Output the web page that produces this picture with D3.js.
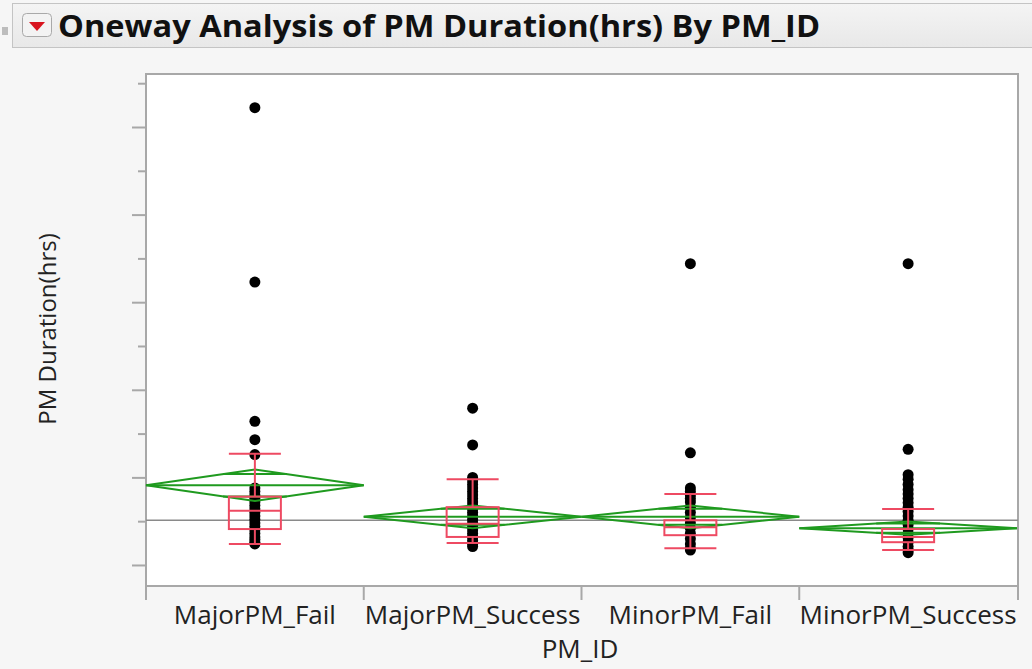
<!DOCTYPE html>
<html>
<head>
<meta charset="utf-8">
<script src="https://cdn.jsdelivr.net/npm/d3@7"></script>
<style>
  body { margin: 0; background: #f6f6f6; }
  svg { display: block; }
</style>
</head>
<body>
<div id="chart"></div>
<script>
var groups = ["MajorPM_Fail", "MajorPM_Success", "MinorPM_Fail", "MinorPM_Success"];

// raw duration points per group (hrs)
var ptsMajorFail = [52.2, 32.3, 16.4, 14.3, 12.6, 8.8, 8.4, 8.0, 7.6, 7.2, 6.8, 6.4, 6.0, 5.6, 5.2, 4.8, 4.4, 4.0, 3.6, 3.2, 2.9, 2.6, 2.4];
var ptsMajorSuccess = [17.9, 13.7, 10.0, 9.6, 9.2, 8.8, 8.4, 8.0, 7.6, 7.2, 6.8, 6.4, 6.0, 5.6, 5.2, 4.8, 4.4, 4.0, 3.6, 3.2, 2.8, 2.4, 2.1];
var ptsMinorFail = [34.4, 12.8, 8.8, 8.4, 8.0, 7.6, 7.2, 6.6, 6.0, 5.4, 4.8, 4.2, 3.6, 3.0, 2.4, 1.9, 1.7];
var ptsMinorSuccess = [34.4, 13.2, 10.3, 9.8, 9.2, 8.6, 8.1, 7.6, 7.1, 6.6, 6.1, 5.6, 5.1, 4.6, 4.1, 3.6, 3.1, 2.6, 2.1, 1.7, 1.4];

// mean diamonds
var means = [9.1, 5.5, 5.5, 4.2];
var ciHalf = [1.8, 1.3, 1.3, 0.75];
var grandMean = 5.1;

// box plots
var q1 = [4.1, 3.2, 3.4, 2.6];
var medians = [6.2, 4.7, 4.3, 3.2];
var q3 = [7.8, 6.6, 5.1, 4.1];
var whiskerLo = [2.4, 2.5, 1.9, 1.7];
var whiskerHi = [12.7, 9.8, 8.1, 6.4];

var majorTicks = [0, 10, 20, 30, 40, 50];
var minorTicks = [5, 15, 25, 35, 45, 55];

var allPts = [ptsMajorFail, ptsMajorSuccess, ptsMinorFail, ptsMinorSuccess];

var W = 1032, H = 669;
var plotL = 146, plotR = 1018, plotT = 74, plotB = 586;

var svg = d3.select("#chart").append("svg")
  .attr("width", W)
  .attr("height", H);

svg.append("rect").attr("width", W).attr("height", H).attr("fill", "#f6f6f6");

// header bar
var grad = svg.append("defs").append("linearGradient")
  .attr("id", "hdr").attr("x1", 0).attr("x2", 0).attr("y1", 0).attr("y2", 1);
grad.append("stop").attr("offset", "0%").attr("stop-color", "#f4f4f4");
grad.append("stop").attr("offset", "100%").attr("stop-color", "#e8e8e8");

svg.append("rect")
  .attr("x", 12.5).attr("y", 3.5).attr("width", 1030).attr("height", 44)
  .attr("fill", "url(#hdr)").attr("stroke", "#c4c4c4");
svg.append("rect")
  .attr("x", 2).attr("y", 27).attr("width", 6).attr("height", 8)
  .attr("fill", "#bdbdbd");
svg.append("rect")
  .attr("x", 22.5).attr("y", 13.5).attr("width", 29).attr("height", 23).attr("rx", 4)
  .attr("fill", "#f3f3f3").attr("stroke", "#a9a9a9");
svg.append("path")
  .attr("d", "M29,22 L45,22 L37,31 Z")
  .attr("fill", "#d8141f");
svg.append("text")
  .attr("x", 58).attr("y", 37)
  .attr("font-family", "'Open Sans', sans-serif")
  .attr("font-weight", "bold")
  .attr("font-size", 30)
  .attr("textLength", 762)
  .attr("lengthAdjust", "spacingAndGlyphs")
  .attr("fill", "#111")
  .text("Oneway Analysis of PM Duration(hrs) By PM_ID");

var x = d3.scaleBand().domain(groups).range([plotL, plotR - 1]).padding(0);
var y = d3.scaleLinear().domain([-2.4, 56.05]).range([plotB, plotT]);

// plot area
svg.append("rect")
  .attr("x", plotL).attr("y", plotT)
  .attr("width", plotR - plotL).attr("height", plotB - plotT)
  .attr("fill", "#fff")
  .attr("stroke", "#a8a8a8").attr("stroke-width", 2);

// y axis ticks, no labels
var yMajor = svg.append("g")
  .attr("transform", "translate(" + plotL + ",0)")
  .call(d3.axisLeft(y).tickValues(majorTicks).tickSize(14).tickSizeOuter(0).tickFormat(""));
var yMinor = svg.append("g")
  .attr("transform", "translate(" + plotL + ",0)")
  .call(d3.axisLeft(y).tickValues(minorTicks).tickSize(8).tickSizeOuter(0).tickFormat(""));
[yMajor, yMinor].forEach(function(g) {
  g.select(".domain").remove();
  g.selectAll("line").attr("stroke", "#a8a8a8").attr("stroke-width", 2);
});

// left axis line extends below the frame
svg.append("line")
  .attr("x1", plotL).attr("x2", plotL).attr("y1", plotT).attr("y2", plotB + 14)
  .attr("stroke", "#a8a8a8").attr("stroke-width", 2);

// x axis ticks at group boundaries
var bounds = groups.map(function(g) { return x(g); }).concat([plotR]);
svg.selectAll(".xtick")
  .data(bounds)
  .enter()
  .append("line")
    .attr("x1", function(d) { return d; })
    .attr("x2", function(d) { return d; })
    .attr("y1", plotB)
    .attr("y2", plotB + 14)
    .attr("stroke", "#a8a8a8")
    .attr("stroke-width", 2);

svg.selectAll(".xlab")
  .data(groups)
  .enter()
  .append("text")
    .attr("x", function(d) { return x(d) + x.bandwidth() / 2; })
    .attr("y", 624)
    .attr("text-anchor", "middle")
    .attr("font-family", "'Open Sans', sans-serif")
    .attr("font-size", 26)
    .attr("fill", "#222")
    .text(function(d) { return d; });

svg.append("text")
  .attr("x", 580).attr("y", 658)
  .attr("text-anchor", "middle")
  .attr("font-family", "'Open Sans', sans-serif")
  .attr("font-size", 26)
  .attr("fill", "#222")
  .text("PM_ID");

svg.append("text")
  .attr("transform", "translate(56,329) rotate(-90)")
  .attr("text-anchor", "middle")
  .attr("font-family", "'Open Sans', sans-serif")
  .attr("font-size", 24)
  .attr("fill", "#222")
  .text("PM Duration(hrs)");

// grand mean
svg.append("line")
  .attr("x1", plotL).attr("x2", plotR)
  .attr("y1", y(grandMean)).attr("y2", y(grandMean))
  .attr("stroke", "#8a8a8a").attr("stroke-width", 1.5);

// points
groups.forEach(function(g, i) {
  svg.selectAll(".pt" + i)
    .data(allPts[i])
    .enter()
    .append("circle")
      .attr("cx", x(g) + x.bandwidth() / 2)
      .attr("cy", function(d) { return y(d); })
      .attr("r", 5.5)
      .attr("fill", "#000");
});

// mean diamonds with overlap marks
var green = "#1f9a1f";
groups.forEach(function(g, i) {
  var x0 = x(g), x1 = x(g) + x.bandwidth(), xc = (x0 + x1) / 2;
  var m = means[i], h = ciHalf[i];
  svg.append("path")
    .attr("d", "M" + x0 + "," + y(m) + "L" + xc + "," + y(m + h) + "L" + x1 + "," + y(m) + "L" + xc + "," + y(m - h) + "Z")
    .attr("fill", "none").attr("stroke", green).attr("stroke-width", 2);
  svg.append("line")
    .attr("x1", x0).attr("x2", x1).attr("y1", y(m)).attr("y2", y(m))
    .attr("stroke", green).attr("stroke-width", 2);
  var f = Math.SQRT2 / 2;
  [m + h * f, m - h * f].forEach(function(v) {
    var half = (1 - f) * x.bandwidth() / 2;
    svg.append("line")
      .attr("x1", xc - half).attr("x2", xc + half)
      .attr("y1", y(v)).attr("y2", y(v))
      .attr("stroke", green).attr("stroke-width", 2);
  });
});

// box plots
var red = "#ee4a62";
var bw = 52;
groups.forEach(function(g, i) {
  var xc = x(g) + x.bandwidth() / 2;
  var b = svg.append("g").attr("stroke", red).attr("stroke-width", 2).attr("fill", "none");
  b.append("rect")
    .attr("x", xc - bw / 2).attr("width", bw)
    .attr("y", y(q3[i])).attr("height", y(q1[i]) - y(q3[i]));
  b.append("line").attr("x1", xc - bw / 2).attr("x2", xc + bw / 2)
    .attr("y1", y(medians[i])).attr("y2", y(medians[i]));
  b.append("line").attr("x1", xc).attr("x2", xc)
    .attr("y1", y(whiskerHi[i])).attr("y2", y(q3[i]));
  b.append("line").attr("x1", xc).attr("x2", xc)
    .attr("y1", y(q1[i])).attr("y2", y(whiskerLo[i]));
  [whiskerHi[i], whiskerLo[i]].forEach(function(v) {
    b.append("line").attr("x1", xc - bw / 2).attr("x2", xc + bw / 2)
      .attr("y1", y(v)).attr("y2", y(v));
  });
});
</script>
</body>
</html>
